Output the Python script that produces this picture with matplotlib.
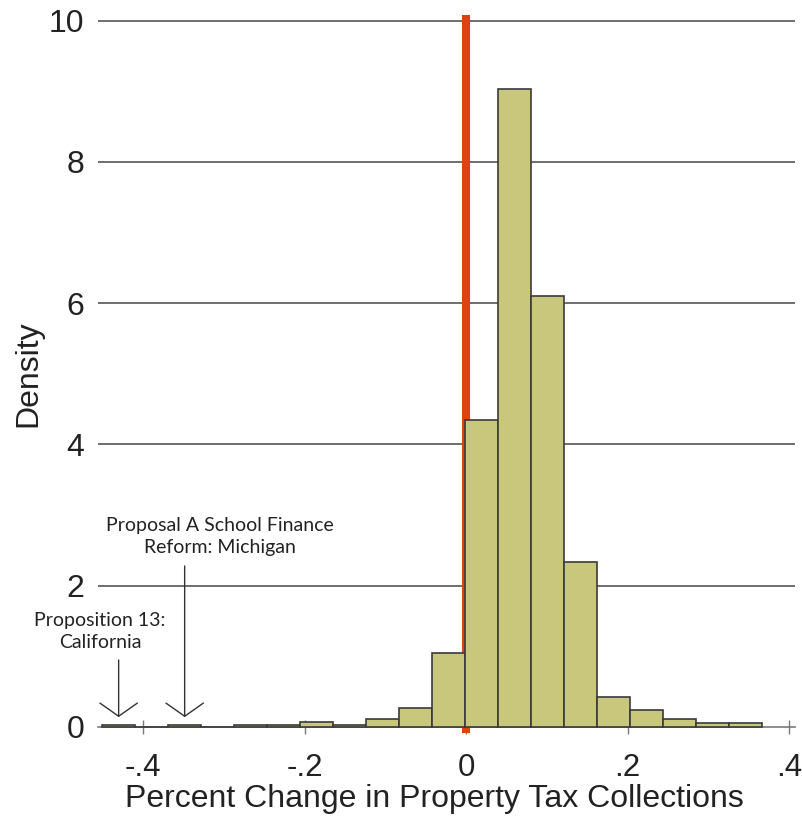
import matplotlib
matplotlib.use("Agg")
import matplotlib.pyplot as plt
import numpy as np

# ---- data ----
bin_start = -0.451
bin_width = 0.0409
densities = [0.03, 0.0, 0.03, 0.0, 0.03, 0.03, 0.07, 0.03, 0.11, 0.27,
             1.05, 4.35, 9.03, 6.10, 2.34, 0.42, 0.245, 0.12, 0.06, 0.06]
x_ticks = [-0.4, -0.2, 0.0, 0.2, 0.4]
x_tick_labels = ['-.4', '-.2', '0', '.2', '.4']
y_ticks = [0, 2, 4, 6, 8, 10]
y_tick_labels = ['0', '2', '4', '6', '8', '10']
ref_line_x = 0.0
annotations = [
    ("Proposition 13:\nCalifornia", 0),          # bin index
    ("Proposal A School Finance\nReform: Michigan", 2),
]

edges = bin_start + bin_width * np.arange(len(densities))

plt.rcParams['font.family'] = ['Liberation Sans', 'DejaVu Sans']

fig = plt.figure(figsize=(8.03, 8.16), dpi=100)
ax = fig.add_axes([0.12217, 0.07445, 0.86843, 0.91746])
ax.set_xlim(-0.456, 0.408)
ax.set_ylim(-0.4, 10.2)

# grid
for yv in y_ticks[1:]:
    ax.axhline(yv, color='#6e6e6e', lw=1.4, zorder=0)

# reference line (behind bars)
ax.plot([ref_line_x, ref_line_x], [-0.09, 10.08], color='#DF4410', lw=5.8,
        solid_capstyle='butt', zorder=2.6, clip_on=False)

# histogram bars
ax.bar(edges, densities, width=bin_width, align='edge', color='#C9C77B',
       edgecolor='#3a3a3a', linewidth=1.2, zorder=3)

# axes styling
for s in ['top', 'right', 'left']:
    ax.spines[s].set_visible(False)
ax.spines['bottom'].set_position(('data', 0))
ax.spines['bottom'].set_color('#7a7a7a')
ax.spines['bottom'].set_linewidth(1.2)
ax.spines['bottom'].set_zorder(2.5)

ax.set_xticks(x_ticks)
ax.set_xticklabels(x_tick_labels)
ax.set_yticks(y_ticks)
ax.set_yticklabels(y_tick_labels)
ax.tick_params(axis='x', direction='inout', length=9.5, width=1.0,
               color='#7a7a7a', labelsize=22.5, pad=14, labelcolor='#222222')
ax.tick_params(axis='y', length=0, labelsize=23, pad=10, labelcolor='#222222')

ax.set_xlabel('Percent Change in Property Tax Collections', fontsize=23,
              color='#222222', va='top')
ax.xaxis.set_label_coords(0.4824, -0.038)
ax.set_ylabel('Density', fontsize=23, color='#222222', va='center')
ax.yaxis.set_label_coords(-0.100, 0.51)

# annotations
text_y = [1.35, 2.70]
tail_y = [0.95, 2.28]
text_x = [-0.4535, -0.305]
for (txt, bi), ty, tl, tx in zip(annotations, text_y, tail_y, text_x):
    cx = edges[bi] + bin_width / 2
    ax.text(tx, ty, txt, ha='center', va='center', fontsize=14,
            family=['Lato', 'DejaVu Sans'], color='#222222',
            linespacing=1.4, zorder=5)
    ax.annotate('', xy=(cx, 0.14), xytext=(cx, tl),
                arrowprops=dict(arrowstyle='->,head_length=0.95,head_width=1.35',
                                color='#333333', lw=1.0, shrinkA=0, shrinkB=0,
                                mutation_scale=10),
                zorder=5)

fig.savefig('out.png', dpi=100)
